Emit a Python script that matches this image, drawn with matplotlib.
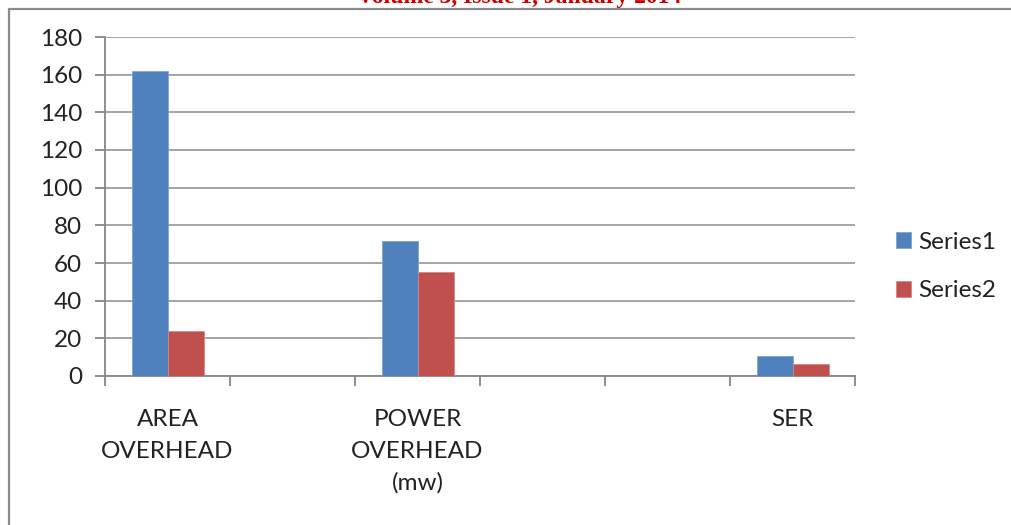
import numpy as np
import matplotlib.pyplot as plt
from matplotlib.lines import Line2D

# categories (empty slots are kept as in the source workbook)
categories = ["AREA\nOVERHEAD", "", "POWER\nOVERHEAD\n(mw)", "", "", "SER"]
series1 = [162, np.nan, 71.5, np.nan, np.nan, 10.5]
series2 = [24, np.nan, 55, np.nan, np.nan, 6.5]
series_names = ["Series1", "Series2"]
yticks = np.arange(0, 181, 20)

W, H = 1011, 525
fig = plt.figure(figsize=(W / 100, H / 100), dpi=100)
plt.rcParams['font.family'] = ['Lato', 'DejaVu Sans']
fs = 17.5

ax = fig.add_axes([105 / W, 1 - 376 / H, 750 / W, 339 / H])

x = np.arange(len(categories))
bw = 0.288
b1 = ax.bar(x - bw / 2, series1, bw, color='#4f81bd', edgecolor='#7ea3d3', linewidth=0.6,
            label=series_names[0], zorder=3)
b2 = ax.bar(x + bw / 2, series2, bw, color='#c0504d', edgecolor='#d98583', linewidth=0.6,
            label=series_names[1], zorder=3)

ax.set_xlim(-0.5, len(categories) - 0.5)
ax.set_ylim(0, 180)
ax.set_yticks(yticks)

# tick marks on category boundaries, labels centred under each category
ax.set_xticks(np.arange(-0.5, len(categories)))
ax.set_xticklabels([])
ax.set_xticks(x, minor=True)
ax.set_xticklabels(categories, minor=True, fontsize=fs, color='#222222', linespacing=1.6,
                   va='top')
ax.tick_params(axis='x', which='major', length=7, width=1.3, color='#868686', direction='out')
ax.tick_params(axis='x', which='minor', length=0, pad=24)
ax.tick_params(axis='y', length=7.5, width=1.3, color='#868686', pad=9, labelsize=fs,
               labelcolor='#222222')

ax.grid(axis='y', color='#8c8c8c', linewidth=1.1, zorder=0)
for s in ['top', 'right']:
    ax.spines[s].set_visible(False)
for s in ['left', 'bottom']:
    ax.spines[s].set_color('#868686')
    ax.spines[s].set_linewidth(1.3)

fig.legend(handles=[b1, b2], loc='center left', bbox_to_anchor=(874 / W, 1 - 266.5 / H),
           frameon=False, fontsize=fs, handlelength=0.62, handleheight=0.62,
           handletextpad=0.3, labelspacing=1.15, labelcolor='#222222')

# outer frame and header text
fx, fy = 9 / W, 1 - 9 / H
fig.add_artist(Line2D([fx, fx, 1], [0, fy, fy], transform=fig.transFigure,
                      color='#8a8a8a', linewidth=1.6))
fig.text(519 / W, 1 - 3 / H, "Volume 3, Issue 1, January 2014", ha='center', va='baseline',
         family='Liberation Serif', fontweight='bold', fontsize=17, color='#cc0000')

fig.savefig('out.png', dpi=100)
